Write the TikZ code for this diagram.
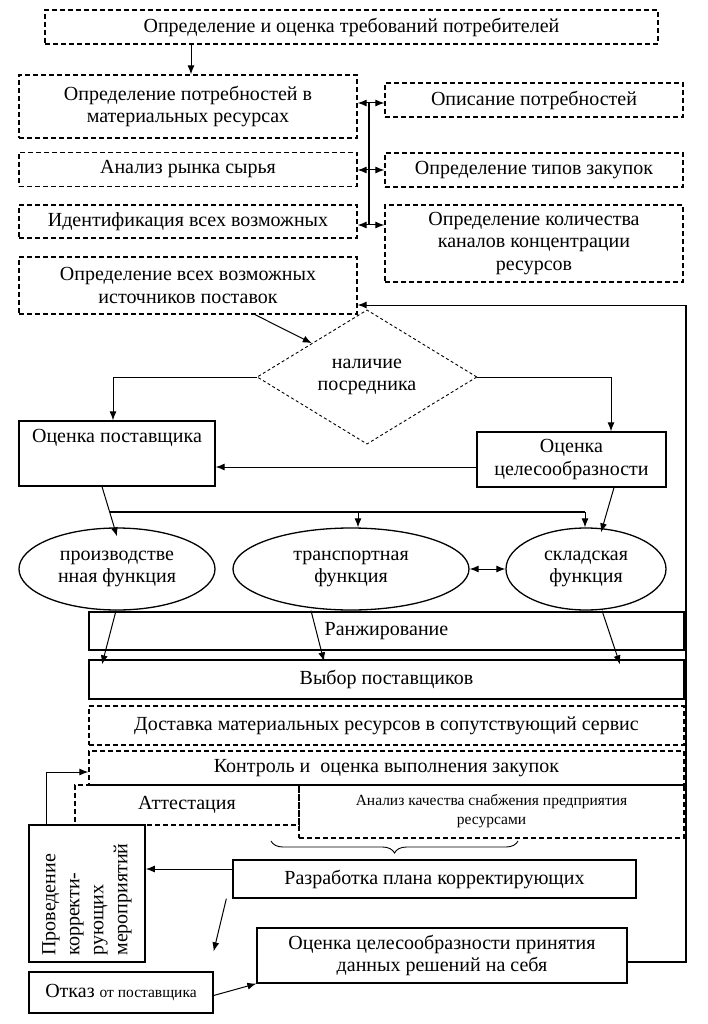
\documentclass[tikz,border=0pt]{standalone}
\usepackage{fontspec}
\setmainfont{Liberation Serif}
\usetikzlibrary{shapes.geometric,arrows.meta,decorations.pathreplacing}
\tikzset{
  base/.style={draw, line width=1.3pt, align=center, inner sep=2pt,
    font=\fontsize{20}{22.5}\selectfont},
  dbox/.style={base, dash pattern=on 5pt off 3pt},
  sbox/.style={base},
  ell/.style={base, ellipse, inner sep=0pt},
  arr/.style={line width=1pt, -{Latex[length=9pt,width=7pt]}},
  darr/.style={line width=1pt, {Latex[length=9pt,width=7pt]}-{Latex[length=9pt,width=7pt]}},
  ln/.style={line width=1.2pt},
}
\begin{document}
\begin{tikzpicture}[x=1pt,y=-1pt]
\useasboundingbox (0,0) rectangle (708,1024);
% top section
\node[dbox, minimum width=613, minimum height=34] (top) at (351.5,27) {Определение и оценка требований потребителей};
\node[dbox, minimum width=338, minimum height=63] (need) at (188,106.5) {Определение потребностей в\\материальных ресурсах};
\node[dbox, minimum width=338, minimum height=34] (market) at (188,169.5) {Анализ рынка сырья};
\node[dbox, minimum width=338, minimum height=33] (ident) at (188,221.5) {Идентификация всех возможных};
\node[dbox, minimum width=338, minimum height=57] (src) at (188,285.5) {Определение всех возможных\\источников поставок};
\node[dbox, minimum width=298, minimum height=34] (desc) at (534,100) {Описание потребностей};
\node[dbox, minimum width=298, minimum height=34] (types) at (534,170) {Определение типов закупок};
\node[dbox, minimum width=298, minimum height=77] (qty) at (534,243.5) {Определение количества\\каналов концентрации\\ресурсов};

\draw[arr] ([xshift=-160.5pt]top.south) -- ([xshift=-160.5pt]top.south |- need.north);
\coordinate (v1) at (369,103);
\coordinate (v2) at (369,170);
\coordinate (v3) at (369,225);
\draw[ln] (v1) -- (v3);
\draw[darr] (need.east |- v1) -- (desc.west |- v1);
\draw[darr] (market.east |- v2) -- (types.west |- v2);
\draw[darr] (ident.east |- v3) -- (qty.west |- v3);

% diamond
\node[diamond, draw, line width=0.9pt, dash pattern=on 3pt off 2.5pt, minimum width=220, minimum height=124, inner sep=0pt, align=center, font=\fontsize{20}{22}\selectfont] (dia) at (367,377) {наличие\\посредника};
\draw[arr] ([xshift=67pt]src.south) -- (dia.north west);

\node[sbox, minimum width=196, minimum height=65] (ocp) at (117,453.5) {Оценка поставщика\\[12pt]\mbox{}};
\node[sbox, minimum width=189, minimum height=55] (ocz) at (571.5,459.5) {Оценка\\целесообразности};
\draw[arr] (dia.west) -| ([xshift=-4pt]ocp.north);
\draw[arr] (dia.east) -| ([xshift=39.5pt]ocz.north);
\draw[arr] ([yshift=-7.5pt]ocz.west) -- ([yshift=-7.5pt]ocz.west -| ocp.east);

% ellipses
\node[ell, minimum width=196, minimum height=82] (prod) at (117,569) {производстве\\нная функция};
\node[ell, minimum width=236, minimum height=82] (trans) at (351,569) {транспортная\\функция};
\node[ell, minimum width=160, minimum height=82] (skl) at (586,569) {складская\\функция};

\draw[arr] ([xshift=-15pt]ocp.south) -- ([yshift=-9pt]prod.north);
\coordinate (h1) at (110,512);
\coordinate (h2) at (585,512);
\draw[ln] (h1) -- (h2);
\draw[arr] (h2) -- (h2 |- skl.north);
\draw[arr] ([xshift=7pt]trans.north |- h1) -- ([xshift=7pt]trans.north);
\draw[arr] ([xshift=42.5pt]ocz.south) -- ([xshift=15pt,yshift=-5pt]skl.north);
\draw[darr] (trans.east) -- (skl.west);

% ranking etc
\node[sbox, line width=1.7pt, minimum width=595, minimum height=38] (rank) at (386.5,631) {Ранжирование};
\node[sbox, minimum width=595, minimum height=39] (sel) at (386.5,679.5) {Выбор поставщиков};
\draw[arr] ([xshift=-1pt]prod.south) -- ([xshift=-284.5pt,yshift=-5pt]sel.north);
\draw[arr] ([xshift=-40pt]trans.south) -- ([xshift=-62.5pt,yshift=-2pt]sel.north);
\draw[arr] ([xshift=16pt]skl.south) -- ([xshift=233.5pt,yshift=-5pt]sel.north);

\node[dbox, minimum width=595, minimum height=39] (deliv) at (386.5,725.5) {Доставка материальных ресурсов в сопутствующий сервис};
\node[dbox, minimum width=595, minimum height=34] (ctrl) at (386.5,768) {Контроль и~ оценка выполнения закупок};
\node[dbox, minimum width=224, minimum height=40] (att) at (187,805) {Аттестация};
\node[dbox, minimum width=385, minimum height=53, font=\fontsize{15.5}{19}\selectfont] (anq) at (491.5,811.5) {Анализ качества снабжения предприятия\\ресурсами};
\draw[decorate, decoration={brace, mirror, amplitude=12pt}, line width=0.9pt] (271,841) -- (518,841);

\node[sbox, minimum width=403, minimum height=38] (plan) at (434.5,879) {Разработка плана корректирующих};
\node[sbox, line width=1.7pt, minimum width=116, minimum height=137] (corr) at (87,893.5) {};
\node[rotate=90, align=left, anchor=center, font=\fontsize{20}{24}\selectfont] (corrtxt) at ([yshift=-6pt]corr.center) {Проведение\\корректи-\\рующих\\мероприятий};
\draw[arr] ([yshift=10pt]plan.west) -- ([yshift=10pt]plan.west -| corr.east);
\draw[arr] ([xshift=-41pt]corr.north) |- ([yshift=-4pt]ctrl.west);

\node[sbox, minimum width=184, minimum height=41] (ref) at (121,992.5) {Отказ {\fontsize{15.5}{18}\selectfont от поставщика}};
\node[sbox, minimum width=370, minimum height=55] (feas) at (442,955.5) {Оценка целесообразности принятия\\данных решений на себя};
\draw[arr] ([xshift=-6pt]plan.south west) -- ([yshift=20pt]ref.north east);
\draw[arr] ([yshift=-3pt]ref.east) -- (feas.south west);

\coordinate (r1) at (686,962);
\coordinate (r2) at (686,305);
\draw[line width=1.5pt] ([yshift=-6.5pt]feas.east) -- ([yshift=-6.5pt]feas.east -| r1) -- (r2);
\draw[arr] (r2) -- (r2 -| src.east);
\end{tikzpicture}
\end{document}
